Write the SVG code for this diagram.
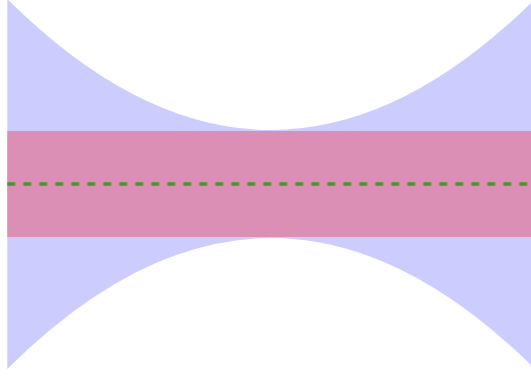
<svg xmlns="http://www.w3.org/2000/svg" width="531" height="376" viewBox="0 0 531 376">
  <style>
    .beam { fill: #ccccff; stroke: none; }
    .core { fill: #dc8fb4; stroke: none; }
    .axis { stroke: #4a9628; stroke-width: 3.6; stroke-dasharray: 8 8; fill: none; }
  </style>
  <rect width="531" height="376" fill="#ffffff"/>
  <g id="beam">
    <path class="beam" d="M7.3,-1 Q139,130 271,130 Q401,130 531,2.9 L531,365.1 Q401,238 271,238 Q139,238 7.3,369 Z"/>
  </g>
  <g id="core">
    <rect class="core" x="7.3" y="131" width="523.7" height="106"/>
  </g>
  <g id="connectors">
    <line class="axis" x1="7.3" y1="184" x2="531" y2="184"/>
  </g>
</svg>
